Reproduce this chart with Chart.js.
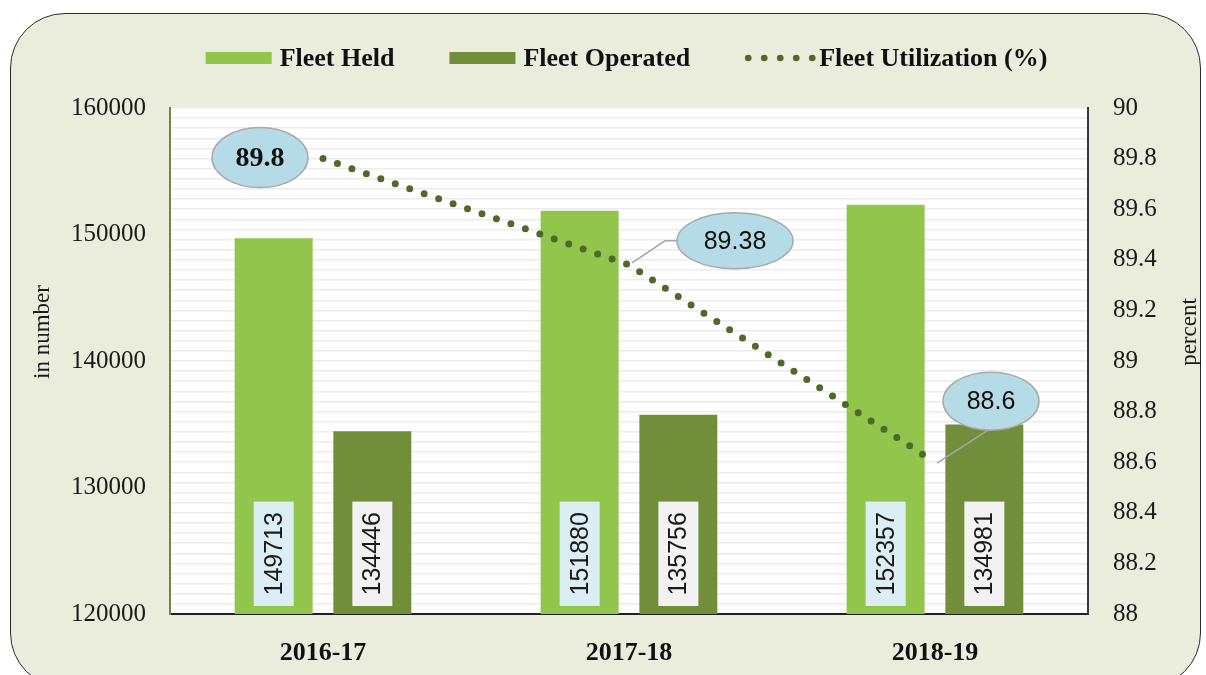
<!DOCTYPE html>
<html>
<head>
<meta charset="utf-8">
<script src="https://cdn.jsdelivr.net/npm/chart.js@4.4.1/dist/chart.umd.min.js"></script>
<style>
  html, body { margin: 0; padding: 0; background: #fff; }
  #wrap { position: relative; width: 1206px; height: 675px; overflow: hidden; }
  #frame {
    position: absolute; left: 10px; top: 13px; width: 1191px; height: 675px;
    box-sizing: border-box; border: 1.5px solid #2b2b2b; border-radius: 55px;
    background: #eaeddb;
  }
  canvas { position: absolute; left: 0; top: 0; }
</style>
</head>
<body>
<div id="wrap">
  <div id="frame"></div>
  <canvas id="fleetChart" width="1206" height="675"></canvas>
</div>
<script>
// --- data ---
const YEARS          = ['2016-17', '2017-18', '2018-19'];
const FLEET_HELD     = [149713, 151880, 152357];
const FLEET_OPERATED = [134446, 135756, 134981];
const UTILIZATION    = [89.8, 89.38, 88.6];
const LEFT_TICKS     = [120000, 130000, 140000, 150000, 160000];
const RIGHT_TICKS    = [88, 88.2, 88.4, 88.6, 88.8, 89, 89.2, 89.4, 89.6, 89.8, 90];

const SERIF = "'Liberation Serif', 'Times New Roman', serif";
const SANS  = "'Liberation Sans', Arial, sans-serif";
const GREEN = '#92c54b';
const OLIVE = '#718e3b';
const DOTS  = '#4d6a2b';
const BOX_FILL = ['#dbeef4', '#f2f2f2'];

// bubble placement relative to each utilization point
const BUBBLES = [
  { dx: -63, dy: -1,  rx: 48, ry: 30, font: `bold 28px ${SERIF}` },
  { dx: 106, dy: -24, rx: 58, ry: 28, font: `25px ${SANS}`, leader: 'elbow' },
  { dx: 56,  dy: -61, rx: 48, ry: 29, font: `25px ${SANS}`, leader: 'straight' },
];

Chart.defaults.font.family = SERIF;
Chart.defaults.color = '#1a1a1a';

/** Plot background, value boxes, bubbles, legend and axis titles. */
const decorations = {
  id: 'decorations',
  beforeDraw(chart) {
    const { ctx, chartArea: a } = chart;
    ctx.save();
    ctx.fillStyle = '#ffffff';
    ctx.fillRect(a.left, a.top, a.right - a.left, a.bottom - a.top);
    ctx.restore();
  },
  afterDatasetsDraw(chart) {
    const { ctx, chartArea: a } = chart;
    ctx.save();

    // rotated value boxes at the foot of each bar
    ctx.font = `25px ${SANS}`;
    [0, 1].forEach(di => {
      const values = chart.data.datasets[di].data;
      chart.getDatasetMeta(di).data.forEach((bar, i) => {
        const txt = String(values[i]);
        const bh = ctx.measureText(txt).width + 21;
        const bw = 40;
        const cy = a.bottom - 8 - bh / 2;
        ctx.fillStyle = BOX_FILL[di];
        ctx.fillRect(bar.x - bw / 2, cy - bh / 2, bw, bh);
        ctx.save();
        ctx.translate(bar.x + 1, cy);
        ctx.rotate(-Math.PI / 2);
        ctx.fillStyle = '#1a1a1a';
        ctx.textAlign = 'center';
        ctx.textBaseline = 'middle';
        ctx.fillText(txt, 0, 0);
        ctx.restore();
      });
    });

    // utilization bubbles
    const pts = chart.getDatasetMeta(2).data;
    pts.forEach((p, i) => {
      const b = BUBBLES[i];
      const cx = p.x + b.dx, cy = p.y + b.dy;
      ctx.strokeStyle = '#a6a6a6';
      ctx.lineWidth = 1.5;
      if (b.leader === 'elbow') {
        ctx.beginPath();
        ctx.moveTo(p.x + 3, p.y - 2);
        ctx.lineTo(cx - b.rx - 12, cy);
        ctx.lineTo(cx - b.rx, cy);
        ctx.stroke();
      } else if (b.leader === 'straight') {
        ctx.beginPath();
        ctx.moveTo(p.x + 2, p.y + 1);
        ctx.lineTo(cx - 3, cy + b.ry);
        ctx.stroke();
      }
      ctx.beginPath();
      ctx.ellipse(cx, cy, b.rx, b.ry, 0, 0, Math.PI * 2);
      ctx.fillStyle = '#b4dbe6';
      ctx.fill();
      ctx.strokeStyle = '#a9a9a9';
      ctx.stroke();
      ctx.fillStyle = '#111';
      ctx.font = b.font;
      ctx.textAlign = 'center';
      ctx.textBaseline = 'middle';
      ctx.fillText(String(UTILIZATION[i]), cx, cy + 1);
    });
    ctx.restore();
  },
  afterDraw(chart) {
    const { ctx } = chart;
    ctx.save();

    // legend
    ctx.font = `bold 26px ${SERIF}`;
    const items = chart.data.datasets.map(ds => ({ ds, w: ctx.measureText(ds.label).width }));
    const SW = 66, GAP = 8, ITEM_GAP = 55;
    const total = items.reduce((s, it) => s + SW + GAP + it.w, 0) + ITEM_GAP * (items.length - 1);
    let x = 626.5 - total / 2;
    const y = 58;
    items.forEach(it => {
      if (it.ds.type === 'line') {
        ctx.fillStyle = it.ds.borderColor;
        for (let k = 0; k < 5; k++) {
          ctx.beginPath();
          ctx.arc(x + 3 + k * 16, y, 3.3, 0, Math.PI * 2);
          ctx.fill();
        }
      } else {
        ctx.fillStyle = it.ds.backgroundColor;
        ctx.fillRect(x, y - 6, SW, 12);
      }
      ctx.fillStyle = '#111';
      ctx.textAlign = 'left';
      ctx.textBaseline = 'middle';
      ctx.fillText(it.ds.label, x + SW + GAP, y + 1);
      x += SW + GAP + it.w + ITEM_GAP;
    });

    // axis titles
    ctx.font = `23px ${SERIF}`;
    ctx.fillStyle = '#1a1a1a';
    ctx.textAlign = 'center';
    ctx.textBaseline = 'middle';
    [['in number', 43], ['percent', 1190]].forEach(([t, tx]) => {
      ctx.save();
      ctx.translate(tx, 332);
      ctx.rotate(-Math.PI / 2);
      ctx.fillText(t, 0, 0);
      ctx.restore();
    });
    ctx.restore();
  },
};

new Chart(document.getElementById('fleetChart'), {
  type: 'bar',
  data: {
    labels: YEARS,
    datasets: [
      { label: 'Fleet Held', data: FLEET_HELD, backgroundColor: GREEN, yAxisID: 'y', order: 2 },
      { label: 'Fleet Operated', data: FLEET_OPERATED, backgroundColor: OLIVE, yAxisID: 'y', order: 2 },
      {
        type: 'line', label: 'Fleet Utilization (%)', data: UTILIZATION, yAxisID: 'y1', order: 0,
        borderColor: DOTS, borderWidth: 7, borderDash: [0, 15.3], borderCapStyle: 'round',
        pointRadius: 0, fill: false, tension: 0,
      },
    ],
  },
  options: {
    responsive: false, animation: false, devicePixelRatio: 1,
    categoryPercentage: 0.645, barPercentage: 0.79,
    layout: { padding: { top: 108, left: 0, right: 0, bottom: 0 } },
    plugins: { legend: { display: false }, tooltip: { enabled: false } },
    scales: {
      x: {
        grid: { display: false },
        border: { color: '#1f1f1f', width: 2 },
        ticks: { padding: 16, font: { size: 26, weight: 'bold' }, color: '#111' },
        afterFit: s => { s.height = 61; },
      },
      y: {
        position: 'left', min: 120000, max: 160000,
        grid: { display: false, drawTicks: false },
        border: { color: '#6d8a45', width: 2 },
        ticks: { padding: 24, font: { size: 25 }, callback: v => String(v) },
        afterBuildTicks: s => { s.ticks = LEFT_TICKS.map(v => ({ value: v })); },
        afterFit: s => { s.width = 170; },
      },
      y1: {
        position: 'right', min: 88, max: 90,
        grid: { color: '#ececec', lineWidth: 1.5, drawTicks: false },
        border: { color: '#3a3a3a', width: 2 },
        ticks: {
          padding: 25, autoSkip: false, font: { size: 25 },
          callback: v => {
            const t = RIGHT_TICKS.find(r => Math.abs(r - v) < 1e-6);
            return t === undefined ? '' : String(t);
          },
        },
        // faint minor grid every 0.04 like the original sheet
        afterBuildTicks: s => {
          const ticks = [];
          for (let i = 0; i <= 50; i++) ticks.push({ value: Math.round((88 + i * 0.04) * 100) / 100 });
          s.ticks = ticks;
        },
        afterFit: s => { s.width = 118; },
      },
    },
  },
  plugins: [decorations],
});
</script>
</body>
</html>
